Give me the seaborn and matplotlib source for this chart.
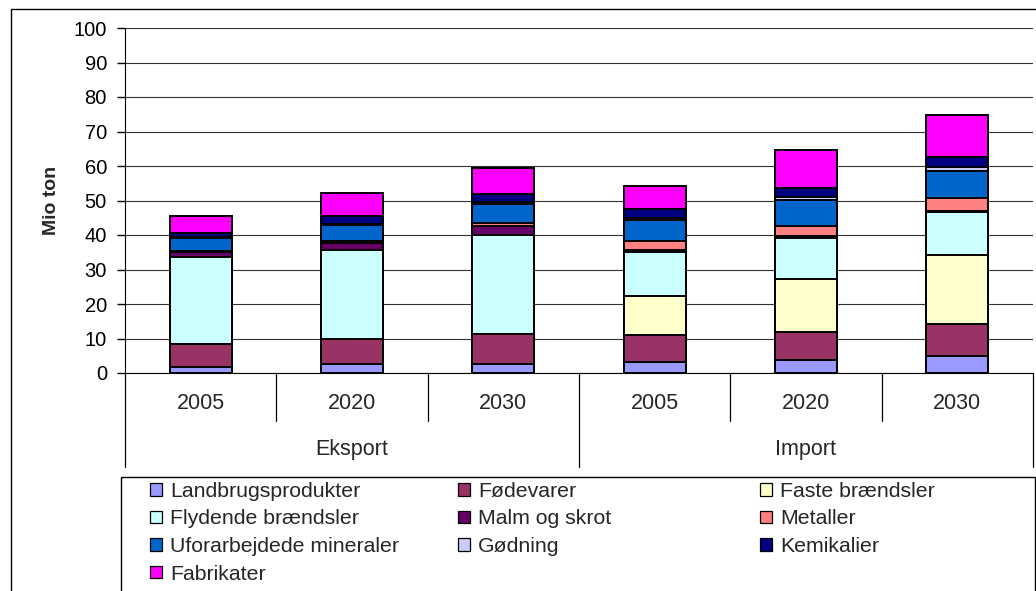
import matplotlib
matplotlib.use("Agg")
from matplotlib import pyplot as plt
from matplotlib.patches import Rectangle
from matplotlib.transforms import blended_transform_factory
import seaborn as sns
import pandas as pd

groups = ["Eksport", "Import"]
years = ["2005", "2020", "2030"]
positions = [f"{g} {y}" for g in groups for y in years]

categories = [
    "Landbrugsprodukter", "Fødevarer", "Faste brændsler", "Flydende brændsler",
    "Malm og skrot", "Metaller", "Uforarbejdede mineraler", "Gødning",
    "Kemikalier", "Fabrikater",
]
colors = [
    "#9999FF", "#993366", "#FFFFCC", "#CCFFFF", "#660066",
    "#FF8080", "#0066CC", "#CCCCFF", "#000080", "#FF00FF",
]

# Mio ton, order: Eksport 2005/2020/2030, Import 2005/2020/2030
landbrug = [1.8, 2.7, 2.7, 3.3, 3.8, 4.9]
foedevarer = [6.5, 7.3, 8.6, 7.6, 8.1, 9.4]
faste = [0.0, 0.0, 0.0, 11.4, 15.4, 19.9]
flydende = [25.4, 25.6, 28.8, 12.9, 11.9, 12.4]
malm = [1.4, 2.1, 2.4, 0.5, 0.6, 0.5]
metaller = [0.3, 0.7, 1.1, 2.5, 2.9, 3.5]
uforarbejdede = [3.7, 4.6, 5.4, 6.1, 7.4, 7.9]
goedning = [0.2, 0.2, 0.7, 0.7, 0.9, 1.3]
kemikalier = [1.4, 2.4, 2.3, 2.4, 2.6, 2.8]
fabrikater = [4.9, 6.6, 7.5, 6.7, 11.0, 12.1]

series = [landbrug, foedevarer, faste, flydende, malm, metaller,
          uforarbejdede, goedning, kemikalier, fabrikater]

rows = []
for cat, vals in zip(categories, series):
    for pos, v in zip(positions, vals):
        rows.append({"pos": pos, "kategori": cat, "value": v})
df = pd.DataFrame(rows)
df["kategori"] = pd.Categorical(df["kategori"], categories, ordered=True)
df = df.sort_values(["pos", "kategori"])
df["cum"] = df.groupby("pos")["value"].cumsum()

sns.set_style("white")
plt.rcParams["font.family"] = ["Liberation Sans", "DejaVu Sans"]

fig = plt.figure(figsize=(10.36, 5.91), dpi=100)
ax = fig.add_axes([125 / 1036, 1 - 373 / 591, 908 / 1036, 345 / 591])

# stacked bars: draw cumulative totals from top layer down
for cat, col in reversed(list(zip(categories, colors))):
    sns.barplot(
        data=df[df["kategori"] == cat], x="pos", y="cum", order=positions,
        color=col, saturation=1, edgecolor="black", linewidth=1.4,
        width=0.41, errorbar=None, ax=ax,
    )

ax.set_xlim(-0.5, len(positions) - 0.5)
ax.set_ylim(0, 100)
ax.set_yticks(range(0, 101, 10))
ax.yaxis.grid(True, color="#333333", linewidth=0.8)
ax.set_axisbelow(True)
for s in ["top", "right"]:
    ax.spines[s].set_visible(False)
ax.spines["left"].set_color("black")
ax.spines["bottom"].set_color("black")
ax.tick_params(axis="y", left=True, length=6, width=1, pad=7,
               labelsize=14.5, colors="black")
ax.tick_params(axis="x", bottom=False, labelbottom=False)
ax.set_xlabel("")
ax.set_ylabel("Mio ton", fontsize=14, fontweight="bold")
ax.yaxis.set_label_coords(-0.072, 0.5)

# two-level category axis
tr = blended_transform_factory(ax.transData, ax.transAxes)
for i, y in enumerate(years * len(groups)):
    ax.text(i, -0.087, y, transform=tr, ha="center", va="center", fontsize=15.5)
for i in range(len(positions) + 1):
    low = -0.272 if i % len(years) == 0 else -0.139
    ax.plot([i - 0.5, i - 0.5], [0, low], transform=tr, color="black",
            linewidth=0.9, clip_on=False)
for j, g in enumerate(groups):
    ax.text(j * len(years) + (len(years) - 1) / 2, -0.223, g, transform=tr,
            ha="center", va="center", fontsize=15.5)

# outer chart border and legend box
fig.add_artist(Rectangle((11 / 1036, -0.1), 1.2, 1.1 - 9 / 591,
                         transform=fig.transFigure, fill=False,
                         edgecolor="black", linewidth=1))
fig.add_artist(Rectangle((121 / 1036, -0.1), (1035 - 121) / 1036,
                         0.1 + (591 - 477) / 591, transform=fig.transFigure,
                         fill=False, edgecolor="black", linewidth=1))

handles = [Rectangle((0, 0), 1, 1, facecolor=c, edgecolor="black", linewidth=0.9)
           for c in colors]
col_x = [150, 458, 760]
for k, x0 in enumerate(col_x):
    idx = list(range(k, len(categories), 3))
    fig.legend(
        [handles[i] for i in idx], [categories[i] for i in idx],
        loc="upper left", bbox_to_anchor=(x0 / 1036, 1 - 482 / 591),
        frameon=False, fontsize=15.3, borderpad=0, borderaxespad=0,
        handlelength=0.55, handleheight=0.55, handletextpad=0.4,
        labelspacing=0.4,
    )

fig.savefig("out.png", dpi=100)
